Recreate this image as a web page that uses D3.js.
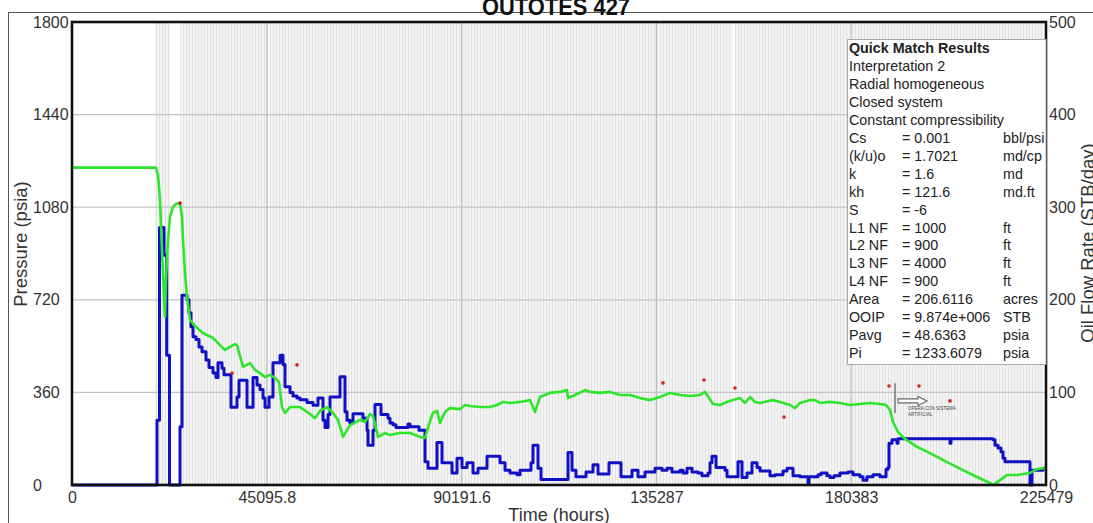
<!DOCTYPE html>
<html>
<head>
<meta charset="utf-8">
<script src="https://cdn.jsdelivr.net/npm/d3@7"></script>
<style>
  html, body { margin: 0; padding: 0; background: #fff; }
  svg { display: block; font-family: "Liberation Sans", Arial, sans-serif; }
</style>
</head>
<body>
<svg id="chart" width="1093" height="523"></svg>
<script>
// ---------- data ----------
const chartTitle = "OUTOTES 427";
const xTicks = [0, 45095.8, 90191.6, 135287, 180383, 225479];
const xTickLabels = ["0", "45095.8", "90191.6", "135287", "180383", "225479"];
const pressureTicks = [0, 360, 720, 1080, 1440, 1800];
const rateTicks = [0, 100, 200, 300, 400, 500];

// pressure (psia) vs time (hours) – green
const pressureData = [
  [0,1234],[19446,1234],[19909,1205],[20372,1108],[20835,914],[21530,653],[21761,797],[22224,953],
  [22687,1042],[23382,1081],[24076,1093],[25002,1096],[25465,1042],[25697,953],[26160,824],[26623,731],
  [27317,642],[28475,618],[30327,591],[31253,583],[32642,572],[34262,544],[35420,525],[36577,537],
  [37735,548],[38198,544],[39587,459],[41207,474],[42365,447],[43522,435],[44680,420],[45837,428],
  [46995,416],[47921,400],[48615,303],[49310,280],[50467,303],[52782,303],[55097,276],[56255,260],
  [57412,288],[59033,303],[60422,280],[61579,253],[62737,187],[64357,233],[66672,253],[67830,245],
  [68987,276],[69682,268],[70839,187],[72460,202],[73617,194],[75932,202],[78247,202],[80562,187],
  [81720,183],[82877,249],[83572,280],[84498,288],[85192,241],[86350,284],[87507,299],[89822,295],
  [90980,311],[92137,307],[94452,303],[96767,303],[98388,311],[99777,323],[101397,319],[103712,323],
  [106027,330],[107185,284],[108342,342],[110657,358],[112972,362],[114593,369],[114824,338],[116445,350],
  [118760,369],[119917,362],[122232,358],[124547,362],[126862,350],[129177,350],[131492,338],[133807,330],
  [136122,342],[138437,358],[140752,350],[143067,346],[145382,350],[146540,362],[148392,315],[150012,311],
  [151633,323],[153022,330],[154642,338],[155800,319],[156957,342],[158115,323],[159272,319],[162282,330],
  [163902,323],[166217,311],[167375,299],[168532,319],[170847,330],[172005,330],[173162,319],[175477,323],
  [177792,319],[180107,311],[182422,315],[184737,319],[187052,315],[188441,311],[189367,292],[190062,245],
  [191219,206],[192840,179],[195618,148],[198627,124],[202563,89],[206267,58],[209508,31],[212517,8],
  [213212,0],[214832,19],[216453,39],[218768,39],[221773,47],[223398,62],[225479,66]
];

// oil flow rate (STB/day) vs time (hours) – blue, stepped
const rateData = [
  [0,0],[19678,70],[20256,278],[21298,248],[21923,140],[22571,0],[25002,63],[25465,205],
  [26623,200],[27086,186],[27549,171],[28012,160],[28706,157],[29401,149],[30095,144],[31021,135],
  [31716,127],[32642,121],[33336,116],[33799,132],[34725,126],[35188,119],[36809,84],[38198,95],
  [38661,113],[40513,84],[41902,116],[42828,108],[43522,103],[44217,94],[44680,84],[45606,95],
  [46532,132],[48152,140],[48847,130],[49310,106],[50467,100],[51162,96],[52088,94],[52782,92],
  [54403,89],[55792,86],[56949,94],[58107,70],[58570,62],[59264,76],[59727,95],[62042,117],
  [63200,79],[63663,70],[64357,67],[65052,77],[67367,72],[68293,59],[68524,43],[69682,59],
  [70145,87],[71534,76],[73154,72],[73617,67],[74312,65],[75006,62],[77784,66],[78247,63],
  [80331,59],[81720,25],[82414,18],[84498,46],[85655,24],[87970,13],[89128,29],[90285,19],
  [91443,24],[92832,13],[93989,18],[96073,31],[99082,24],[100240,16],[101397,13],[103018,11],
  [103712,16],[106259,24],[106722,43],[107879,18],[108574,6],[114824,35],[115750,16],[116676,9],
  [118991,14],[120612,22],[121769,12],[124316,24],[127094,9],[129640,16],[131029,9],[132650,14],
  [134965,18],[136585,16],[137743,18],[138900,14],[140752,16],[141447,13],[142373,18],[143530,14],
  [144919,13],[145845,10],[147234,13],[147697,24],[148160,31],[149086,19],[151170,16],[151633,9],
  [154179,25],[155105,8],[156263,13],[157420,24],[158578,19],[159272,15],[161587,10],[162745,11],
  [164597,15],[165523,18],[166912,10],[168532,9],[170384,2],[170616,9],[172699,11],[173394,13],
  [174783,10],[175477,8],[176403,10],[177792,13],[179644,14],[180802,11],[182422,9],[183117,5],
  [184043,9],[185432,11],[187052,9],[188441,17],[188904,19],[189136,45],[189830,49],[190988,45],
  [191219,50],[203257,45],[203489,50],[213212,49],[213675,43],[214369,40],[215064,36],[215527,29],
  [215990,25],[221773,0],[222236,16],[224783,18],[225479,18]
];

// measured pressure points (psia) – red
const pointData = [
  [25002,1096],[37040,435],[52088,467],[136817,397],[146308,408],[153485,377],
  [164828,264],[189136,385],[196081,385],[203257,327]
];

// time span covered by the rate-event marks, and the gaps in it
const eventSpan = [19200, 224800];
const eventGaps = [[22700, 25100], [152900, 153450]];

// annotation
const annotTime = 190524;
const annotRange = [280, 396];
const arrowFrom = [191219, 327];
const arrowTo = [197933, 327];
const annotLines = ["OPERA CON SISTEMA", "ARTIFICIAL"];
const annotAnchor = [193535, 290];

// quick match box
const boxTitle = "Quick Match Results";
const boxLines = ["Interpretation 2", "Radial homogeneous", "Closed system", "Constant compressibility"];
const paramNames = ["Cs", "(k/u)o", "k", "kh", "S", "L1 NF", "L2 NF", "L3 NF", "L4 NF", "Area", "OOIP", "Pavg", "Pi"];
const paramValues = ["= 0.001", "= 1.7021", "= 1.6", "= 121.6", "= -6", "= 1000", "= 900", "= 4000", "= 900", "= 206.6116", "= 9.874e+006", "= 48.6363", "= 1233.6079"];
const paramUnits = ["bbl/psi", "md/cp", "md", "md.ft", "", "ft", "ft", "ft", "ft", "acres", "STB", "psia", "psia"];

// ---------- drawing ----------
const svg = d3.select("#chart");
const L = 72, R = 1046, T = 22, B = 485;

const x = d3.scaleLinear().domain([0, 225479]).range([L, R]);
const yP = d3.scaleLinear().domain([0, 1800]).range([B, T]);
const yQ = d3.scaleLinear().domain([0, 500]).range([B, T]);

const defs = svg.append("defs");
const pat = defs.append("pattern").attr("id", "ev").attr("patternUnits", "userSpaceOnUse")
  .attr("width", 3).attr("height", 10);
pat.append("rect").attr("width", 3).attr("height", 10).attr("fill", "#f4f4f4");
pat.append("rect").attr("width", 1).attr("height", 10).attr("fill", "#e1e1e1");
defs.append("clipPath").attr("id", "boxclip").append("rect")
  .attr("x", 847).attr("y", 39).attr("width", R - 847).attr("height", 326);

// outer frame
svg.append("rect").attr("x", 8.5).attr("y", 12.5).attr("width", 1200).attr("height", 700)
  .attr("fill", "none").attr("stroke", "#555").attr("stroke-width", 1);

// event band
svg.append("rect").attr("x", x(eventSpan[0])).attr("y", T)
  .attr("width", x(eventSpan[1]) - x(eventSpan[0])).attr("height", B - T).attr("fill", "url(#ev)");
svg.selectAll("rect.gap").data(eventGaps).join("rect").attr("class", "gap")
  .attr("x", d => x(d[0])).attr("y", T).attr("width", d => x(d[1]) - x(d[0])).attr("height", B - T)
  .attr("fill", "#fff");

// grid
svg.selectAll("line.hg").data(pressureTicks.slice(1, -1)).join("line").attr("class", "hg")
  .attr("x1", L).attr("x2", R).attr("y1", d => yP(d)).attr("y2", d => yP(d))
  .attr("stroke", "#c4c4c4").attr("stroke-width", 1.2);
svg.selectAll("line.vg").data(xTicks.slice(1, -1)).join("line").attr("class", "vg")
  .attr("y1", T).attr("y2", B).attr("x1", d => x(d)).attr("x2", d => x(d))
  .attr("stroke", "#c0c0c0").attr("stroke-width", 1.2);

// rate (blue)
svg.append("path").datum(rateData)
  .attr("d", d3.line().x(d => x(d[0])).y(d => yQ(d[1])).curve(d3.curveStepAfter))
  .attr("fill", "none").attr("stroke", "#1010c4").attr("stroke-width", 3).attr("stroke-linejoin", "round");

// pressure (green)
svg.append("path").datum(pressureData)
  .attr("d", d3.line().x(d => x(d[0])).y(d => yP(d[1])))
  .attr("fill", "none").attr("stroke", "#2ee52e").attr("stroke-width", 2.6).attr("stroke-linejoin", "round");

// red points
svg.selectAll("circle.pt").data(pointData).join("circle").attr("class", "pt")
  .attr("cx", d => x(d[0])).attr("cy", d => yP(d[1])).attr("r", 1.8).attr("fill", "#d42020");

// annotation
svg.append("line").attr("x1", x(annotTime)).attr("x2", x(annotTime))
  .attr("y1", yP(annotRange[1])).attr("y2", yP(annotRange[0]))
  .attr("stroke", "#777").attr("stroke-width", 1.5);
{
  const x0 = x(arrowFrom[0]), x1 = x(arrowTo[0]), yy = yP(arrowFrom[1]);
  const hl = 9;
  const p = d3.path();
  p.moveTo(x0, yy - 2); p.lineTo(x1 - hl, yy - 2); p.lineTo(x1 - hl, yy - 4.5); p.lineTo(x1, yy);
  p.lineTo(x1 - hl, yy + 4.5); p.lineTo(x1 - hl, yy + 2); p.lineTo(x0, yy + 2); p.closePath();
  svg.append("path").attr("d", p.toString()).attr("fill", "#fff").attr("stroke", "#666").attr("stroke-width", 1.1);
}
svg.selectAll("text.an").data(annotLines).join("text").attr("class", "an")
  .attr("x", x(annotAnchor[0])).attr("y", (d, i) => yP(annotAnchor[1]) + i * 6)
  .attr("font-size", 4.5).attr("fill", "#444").text(d => d);

// plot frame
svg.append("rect").attr("x", L).attr("y", T).attr("width", R - L).attr("height", B - T)
  .attr("fill", "none").attr("stroke", "#111").attr("stroke-width", 2.6);

// axes
const axL = svg.append("g").attr("transform", `translate(${L},0)`)
  .call(d3.axisLeft(yP).tickValues(pressureTicks).tickSize(0).tickFormat(d3.format("d")));
axL.select(".domain").remove();
axL.selectAll("text").attr("text-anchor", "start").attr("x", 33 - L)
  .attr("font-size", 16).attr("fill", "#333").attr("font-family", null);

const axR = svg.append("g").attr("transform", `translate(${R},0)`)
  .call(d3.axisRight(yQ).tickValues(rateTicks).tickSize(0).tickPadding(3).tickFormat(d3.format("d")));
axR.select(".domain").remove();
axR.selectAll("text").attr("font-size", 16).attr("fill", "#333").attr("font-family", null);

const axB = svg.append("g").attr("transform", `translate(0,${B})`)
  .call(d3.axisBottom(x).tickValues(xTicks).tickSize(0).tickPadding(7).tickFormat((d, i) => xTickLabels[i]));
axB.select(".domain").remove();
axB.selectAll("text").attr("font-size", 16).attr("fill", "#333").attr("font-family", null);

// axis titles
svg.append("text").attr("x", (L + R) / 2).attr("y", 521).attr("text-anchor", "middle")
  .attr("font-size", 18).attr("fill", "#333").text("Time (hours)");
svg.append("text").attr("transform", "translate(27,244) rotate(-90)").attr("text-anchor", "middle")
  .attr("font-size", 18.5).attr("fill", "#333").text("Pressure (psia)");
svg.append("text").attr("transform", "translate(1094,243) rotate(-90)").attr("text-anchor", "middle")
  .attr("font-size", 18.5).attr("fill", "#333").text("Oil Flow Rate (STB/day)");

// title (partly above the picture's top edge, as in the source)
svg.append("text").attr("x", 556).attr("y", 15).attr("text-anchor", "middle")
  .attr("font-size", 24).attr("font-weight", "bold").attr("fill", "#111")
  .attr("textLength", 148).attr("lengthAdjust", "spacingAndGlyphs").text(chartTitle);

// quick match box
const box = svg.append("g");
box.append("rect").attr("x", 847.5).attr("y", 39.5).attr("width", R - 847.5).attr("height", 325)
  .attr("fill", "#fff").attr("stroke", "#aaa").attr("stroke-width", 1);
const bt = box.append("g").attr("clip-path", "url(#boxclip)").attr("font-size", 14.3).attr("fill", "#222");
const lh = 17.95, y0 = 53;
bt.append("text").attr("x", 849).attr("y", y0).attr("font-weight", "bold").text(boxTitle);
bt.selectAll("text.bl").data(boxLines).join("text").attr("class", "bl")
  .attr("x", 849).attr("y", (d, i) => y0 + (i + 1) * lh).text(d => d);
const pr = bt.selectAll("g.pr").data(paramNames).join("g").attr("class", "pr")
  .attr("transform", (d, i) => `translate(0,${y0 + (i + 5) * lh})`);
pr.append("text").attr("x", 849).text(d => d);
pr.append("text").attr("x", 902).text((d, i) => paramValues[i]);
pr.append("text").attr("x", 1003).text((d, i) => paramUnits[i]);
</script>
</body>
</html>
